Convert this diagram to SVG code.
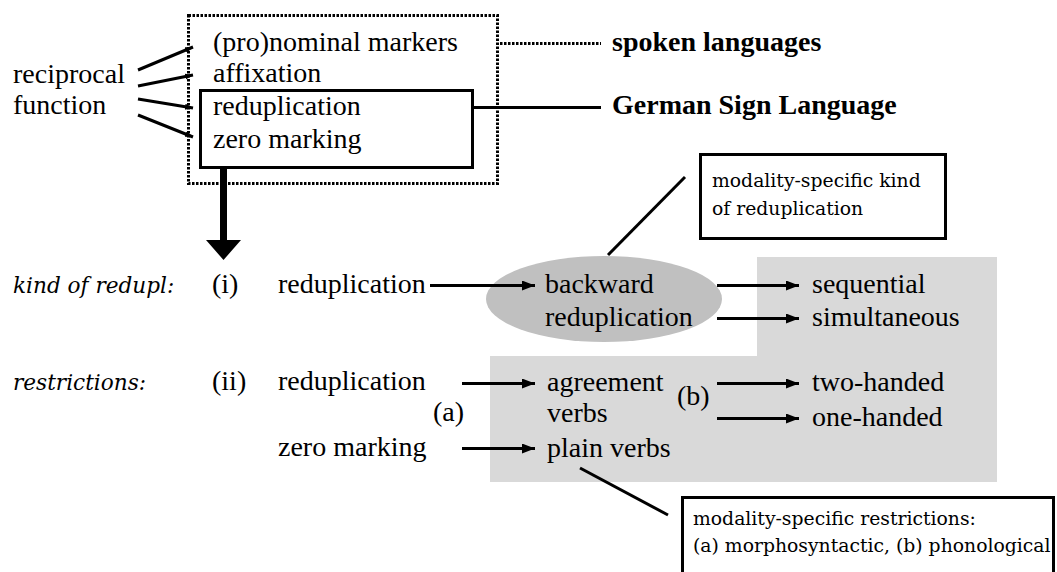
<svg xmlns="http://www.w3.org/2000/svg" width="1057" height="572" viewBox="0 0 1057 572">
  <style>
    .main { font-family: "Liberation Serif", "Times New Roman", serif; font-size: 28px; fill: #000; }
    .bold { font-weight: bold; }
    .small { font-family: "DejaVu Serif", "Liberation Serif", serif; font-size: 18.8px; fill: #000; }
    .ital { font-family: "DejaVu Serif", "Liberation Serif", serif; font-style: italic; font-size: 21.6px; fill: #000; }
    .line { stroke: #000; stroke-width: 3; fill: none; }
    .arrow { stroke: #000; stroke-width: 3; fill: none; marker-end: url(#head); }
    .tick { stroke: #000; stroke-width: 3; fill: none; marker-end: url(#smallhead); }
    .box { fill: #fff; stroke: #000; stroke-width: 3; }
    .dots { fill: none; stroke: #000; stroke-width: 3; stroke-dasharray: 2.5 1.5; }
  </style>
  <defs>
    <marker id="head" markerUnits="userSpaceOnUse" markerWidth="14" markerHeight="11" refX="13" refY="5" orient="auto">
      <path d="M0,0 L13,5 L0,10 z" fill="#000"/>
    </marker>
    <marker id="smallhead" markerUnits="userSpaceOnUse" markerWidth="9" markerHeight="7" refX="8" refY="3" orient="auto">
      <path d="M0,0 L8,3 L0,6 z" fill="#000"/>
    </marker>
  </defs>

  <rect width="1057" height="572" fill="#fff"/>

  <!-- shaded area behind the outcome columns -->
  <path id="shade" d="M757,257 H997 V482 H490 V356 H757 Z" fill="#d9d9d9"/>

  <!-- top: strategies for the reciprocal function -->
  <g id="reciprocal">
    <text class="main" x="13" y="83">reciprocal</text>
    <text class="main" x="13" y="114">function</text>
  </g>

  <g id="strategies">
    <rect class="dots" x="188.5" y="15.5" width="309" height="168"/>
    <text class="main" x="213" y="51">(pro)nominal markers</text>
    <text class="main" x="213" y="82">affixation</text>
  </g>

  <g id="dgs-strategies">
    <rect class="box" x="200.5" y="90.5" width="272" height="77" fill="none"/>
    <text class="main" x="213" y="115">reduplication</text>
    <text class="main" x="213" y="148">zero marking</text>
  </g>

  <g id="spoken">
    <text class="main bold" x="612" y="51">spoken languages</text>
  </g>
  <g id="dgs">
    <text class="main bold" x="612" y="114">German Sign Language</text>
  </g>

  <!-- row labels -->
  <g id="row-i">
    <text class="ital" x="13" y="293">kind of redupl:</text>
    <text class="main" x="212" y="293">(i)</text>
    <text class="main" x="278" y="293">reduplication</text>
  </g>
  <g id="row-ii">
    <text class="ital" x="13" y="390">restrictions:</text>
    <text class="main" x="212" y="390">(ii)</text>
    <text class="main" x="278" y="390">reduplication</text>
    <text class="main" x="278" y="456">zero marking</text>
  </g>

  <g id="backward">
    <ellipse cx="604" cy="299" rx="118" ry="43" fill="#c0c0c0"/>
    <text class="main" x="545" y="293">backward</text>
    <text class="main" x="545" y="326">reduplication</text>
  </g>

  <g id="forms">
    <text class="main" x="812" y="293">sequential</text>
    <text class="main" x="812" y="326">simultaneous</text>
  </g>

  <g id="verbs">
    <text class="main" x="547" y="391">agreement</text>
    <text class="main" x="547" y="422">verbs</text>
    <text class="main" x="547" y="457">plain verbs</text>
    <text class="main" x="433" y="421">(a)</text>
    <text class="main" x="677" y="405">(b)</text>
  </g>

  <g id="hands">
    <text class="main" x="812" y="391">two-handed</text>
    <text class="main" x="812" y="426">one-handed</text>
  </g>

  <g id="note-kind">
    <rect class="box" x="700.5" y="154.5" width="245" height="84"/>
    <text class="small" x="712" y="187">modality-specific kind</text>
    <text class="small" x="712" y="215">of reduplication</text>
  </g>

  <g id="note-restrictions">
    <rect class="box" x="682.5" y="497.5" width="371" height="90"/>
    <text class="small" x="693" y="525">modality-specific restrictions:</text>
    <text class="small" x="693" y="552">(a) morphosyntactic, (b) phonological</text>
  </g>

  <!-- connectors -->
  <g id="connectors">
    <line class="tick" x1="138" y1="70" x2="193" y2="47"/>
    <line class="tick" x1="138" y1="86" x2="193" y2="75"/>
    <line class="tick" x1="138" y1="99" x2="193" y2="108"/>
    <line class="tick" x1="138" y1="115" x2="193" y2="137"/>

    <line class="dots" x1="500" y1="43.5" x2="601" y2="43.5"/>
    <line class="line" x1="473" y1="107.5" x2="601" y2="107.5"/>

    <!-- heavy downward arrow -->
    <rect x="220" y="168" width="7" height="74" fill="#000"/>
    <polygon points="206,240 241,240 223.5,260" fill="#000"/>

    <line class="arrow" x1="430" y1="285.5" x2="535" y2="285.5"/>
    <line class="arrow" x1="717" y1="285.5" x2="799" y2="285.5"/>
    <line class="arrow" x1="717" y1="318.5" x2="799" y2="318.5"/>
    <line class="arrow" x1="462" y1="383.5" x2="535" y2="383.5"/>
    <line class="arrow" x1="462" y1="448.5" x2="535" y2="448.5"/>
    <line class="arrow" x1="717" y1="383.5" x2="799" y2="383.5"/>
    <line class="arrow" x1="717" y1="418.5" x2="799" y2="418.5"/>

    <line class="line" x1="608" y1="255" x2="685" y2="177"/>
    <line class="line" x1="580" y1="468" x2="668" y2="515"/>
  </g>
</svg>
